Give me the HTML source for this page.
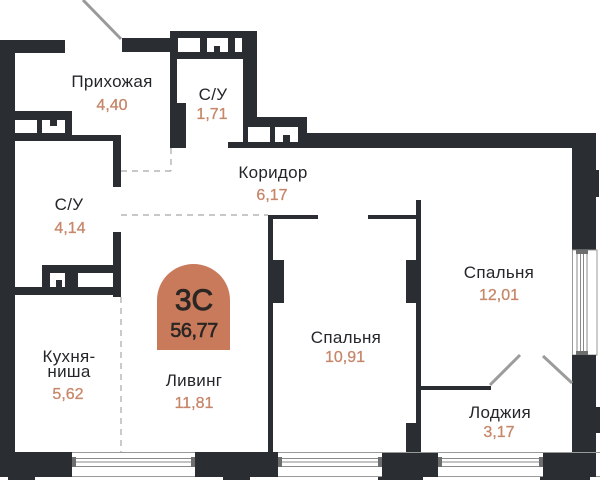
<!DOCTYPE html>
<html><head><meta charset="utf-8"><style>
html,body{margin:0;padding:0;background:#fff;}
svg{display:block;}
.w{fill:#2a2d31;}
.n{font-family:"Liberation Sans","DejaVu Sans",sans-serif;font-size:17px;fill:#23262a;text-anchor:middle;letter-spacing:0.3px;}
.a{font-family:"Liberation Sans","DejaVu Sans",sans-serif;font-size:16px;fill:#c6876a;text-anchor:middle;stroke:#c6876a;stroke-width:0.3px;}
.wl{stroke:#8a8a8a;stroke-width:1;}
</style></head><body>
<svg width="600" height="480" viewBox="0 0 600 480" xmlns="http://www.w3.org/2000/svg">
<rect width="600" height="480" fill="#fff"/>

<!-- door swing top-left -->
<line x1="83" y1="0" x2="121" y2="39" stroke="#9a9a9a" stroke-width="3"/>

<!-- outer left wall -->
<rect class="w" x="0" y="40" width="15" height="437"/>
<rect class="w" x="0" y="40" width="65" height="13"/>
<rect class="w" x="122" y="38" width="50" height="14"/>

<!-- small bathroom box -->
<rect class="w" x="170" y="31" width="87" height="28"/>
<rect fill="#fff" x="178" y="38" width="22" height="14"/>
<rect fill="#fff" x="207" y="38" width="21" height="14"/>
<rect class="w" x="214" y="46" width="6" height="6"/>
<rect fill="#fff" x="235" y="38" width="7" height="14"/>
<rect class="w" x="170" y="31" width="7" height="117"/>
<rect class="w" x="177" y="103" width="9" height="45"/>
<rect class="w" x="243" y="31" width="14" height="90"/>

<!-- band right of bath -->
<rect class="w" x="243" y="117" width="64" height="31"/>
<rect fill="#fff" x="248" y="127" width="22" height="15"/>
<rect fill="#fff" x="275" y="127" width="23" height="15"/>
<rect class="w" x="283" y="135" width="7" height="7"/>
<rect class="w" x="228" y="142" width="16" height="6"/>

<!-- top long wall + right wall -->
<rect class="w" x="307" y="133" width="289" height="15"/>
<rect class="w" x="572" y="133" width="24" height="117"/>
<rect class="w" x="596" y="170" width="3" height="27"/>

<!-- right window -->
<rect x="572.5" y="250" width="24.5" height="105" fill="#fff" stroke="#999" stroke-width="1"/>
<line class="wl" x1="577" y1="250" x2="577" y2="355"/>
<line class="wl" x1="580.5" y1="250" x2="580.5" y2="355"/>
<line class="wl" x1="583.5" y1="250" x2="583.5" y2="355"/>
<line class="wl" x1="587" y1="250" x2="587" y2="355"/>
<rect x="576" y="250" width="12" height="4" fill="#6e6e6e"/>
<rect x="576" y="351" width="12" height="4" fill="#6e6e6e"/>

<rect class="w" x="572" y="355" width="24" height="98"/>
<rect class="w" x="596" y="407" width="4" height="26"/>

<!-- left bathroom top box -->
<rect class="w" x="0" y="111" width="72" height="30"/>
<rect fill="#fff" x="15" y="120" width="22" height="13"/>
<rect fill="#fff" x="42" y="120" width="23" height="13"/>
<rect class="w" x="50" y="120" width="7" height="6"/>
<rect class="w" x="15" y="135" width="106" height="6"/>
<rect class="w" x="113" y="135" width="8" height="52"/>
<rect class="w" x="113" y="232" width="8" height="65"/>

<!-- kitchen top box -->
<rect class="w" x="42" y="265" width="79" height="30"/>
<rect fill="#fff" x="50" y="273" width="15" height="14"/>
<rect class="w" x="56" y="280" width="6" height="7"/>
<rect fill="#fff" x="78" y="273" width="35" height="14"/>
<rect class="w" x="15" y="287" width="106" height="8"/>

<!-- dashed lines -->
<g stroke="#a8a8a8" stroke-width="1.2" stroke-dasharray="6 5" fill="none">
<line x1="121" y1="171" x2="171" y2="171"/>
<line x1="171" y1="148" x2="171" y2="171"/>
<line x1="121" y1="215" x2="268" y2="215"/>
<line x1="121" y1="297" x2="121" y2="452"/>
</g>

<!-- partitions -->
<rect class="w" x="268" y="215" width="5" height="238"/>
<rect class="w" x="268" y="215" width="50" height="4"/>
<rect class="w" x="273" y="260" width="11" height="43"/>
<rect class="w" x="416" y="200" width="5" height="253"/>
<rect class="w" x="368" y="215" width="50" height="4"/>
<rect class="w" x="406" y="260" width="10" height="43"/>
<rect class="w" x="406" y="423" width="15" height="30"/>
<rect class="w" x="417" y="386" width="74" height="4"/>

<!-- loggia door swings -->
<line x1="490" y1="385" x2="520" y2="355" stroke="#9c9c9c" stroke-width="3"/>
<line x1="543" y1="356" x2="572" y2="383" stroke="#9c9c9c" stroke-width="3"/>

<!-- bottom windows -->
<g>
<rect x="72" y="452.5" width="471" height="23.5" fill="#fff"/>
<line x1="0" y1="452.5" x2="600" y2="452.5" stroke="#999" stroke-width="1"/>
<line x1="0" y1="476.5" x2="600" y2="476.5" stroke="#999" stroke-width="1"/>
<g stroke="#8a8a8a" stroke-width="1">
<line x1="72" y1="458.5" x2="543" y2="458.5"/>
<line x1="72" y1="462" x2="543" y2="462"/>
<line x1="72" y1="466.5" x2="543" y2="466.5"/>
</g>
<rect x="72" y="457" width="4" height="10" fill="#6e6e6e"/>
<rect x="191" y="457" width="4" height="10" fill="#6e6e6e"/>
<rect x="278" y="457" width="4" height="10" fill="#6e6e6e"/>
<rect x="378" y="457" width="4" height="10" fill="#6e6e6e"/>
<rect x="438" y="457" width="4" height="10" fill="#6e6e6e"/>
<rect x="539" y="457" width="4" height="10" fill="#6e6e6e"/>
</g>

<!-- bottom wall blocks -->
<rect class="w" x="0" y="452" width="72" height="25"/>
<rect class="w" x="8" y="477" width="27" height="3"/>
<rect class="w" x="195" y="452" width="83" height="25"/>
<rect class="w" x="223" y="477" width="27" height="3"/>
<rect class="w" x="382" y="453" width="56" height="24"/>
<rect class="w" x="378" y="477" width="45" height="3"/>
<rect class="w" x="543" y="453" width="53" height="24"/>
<rect class="w" x="540" y="477" width="50" height="3"/>

<!-- badge -->
<path d="M157 350 L157 300 A36.5 36 0 0 1 230 300 L230 350 Z" fill="#c87a5b"/>
<text x="194" y="310" font-family="Liberation Sans, sans-serif" font-size="30" fill="#2a2624" stroke="#2a2624" stroke-width="0.9" text-anchor="middle">3С</text>
<text x="194" y="337" font-family="Liberation Sans, sans-serif" font-size="20" fill="#2a2624" stroke="#2a2624" stroke-width="0.6" text-anchor="middle" letter-spacing="-0.5">56,77</text>

<!-- labels -->
<text class="n" x="112" y="87">Прихожая</text>
<text class="a" x="112" y="110">4,40</text>
<text class="n" x="213" y="100">С/У</text>
<text class="a" x="212" y="119">1,71</text>
<text class="n" x="273" y="178">Коридор</text>
<text class="a" x="272" y="200">6,17</text>
<text class="n" x="69" y="210">С/У</text>
<text class="a" x="70" y="233">4,14</text>
<text class="n" x="499" y="278">Спальня</text>
<text class="a" x="499" y="300">12,01</text>
<text class="n" x="346" y="343">Спальня</text>
<text class="a" x="345" y="362">10,91</text>
<text class="n" x="69" y="362">Кухня-</text>
<text class="n" x="69" y="377">ниша</text>
<text class="a" x="68" y="399">5,62</text>
<text class="n" x="194" y="386">Ливинг</text>
<text class="a" x="194" y="408">11,81</text>
<text class="n" x="500" y="418">Лоджия</text>
<text class="a" x="499" y="437">3,17</text>
</svg>
</body></html>
